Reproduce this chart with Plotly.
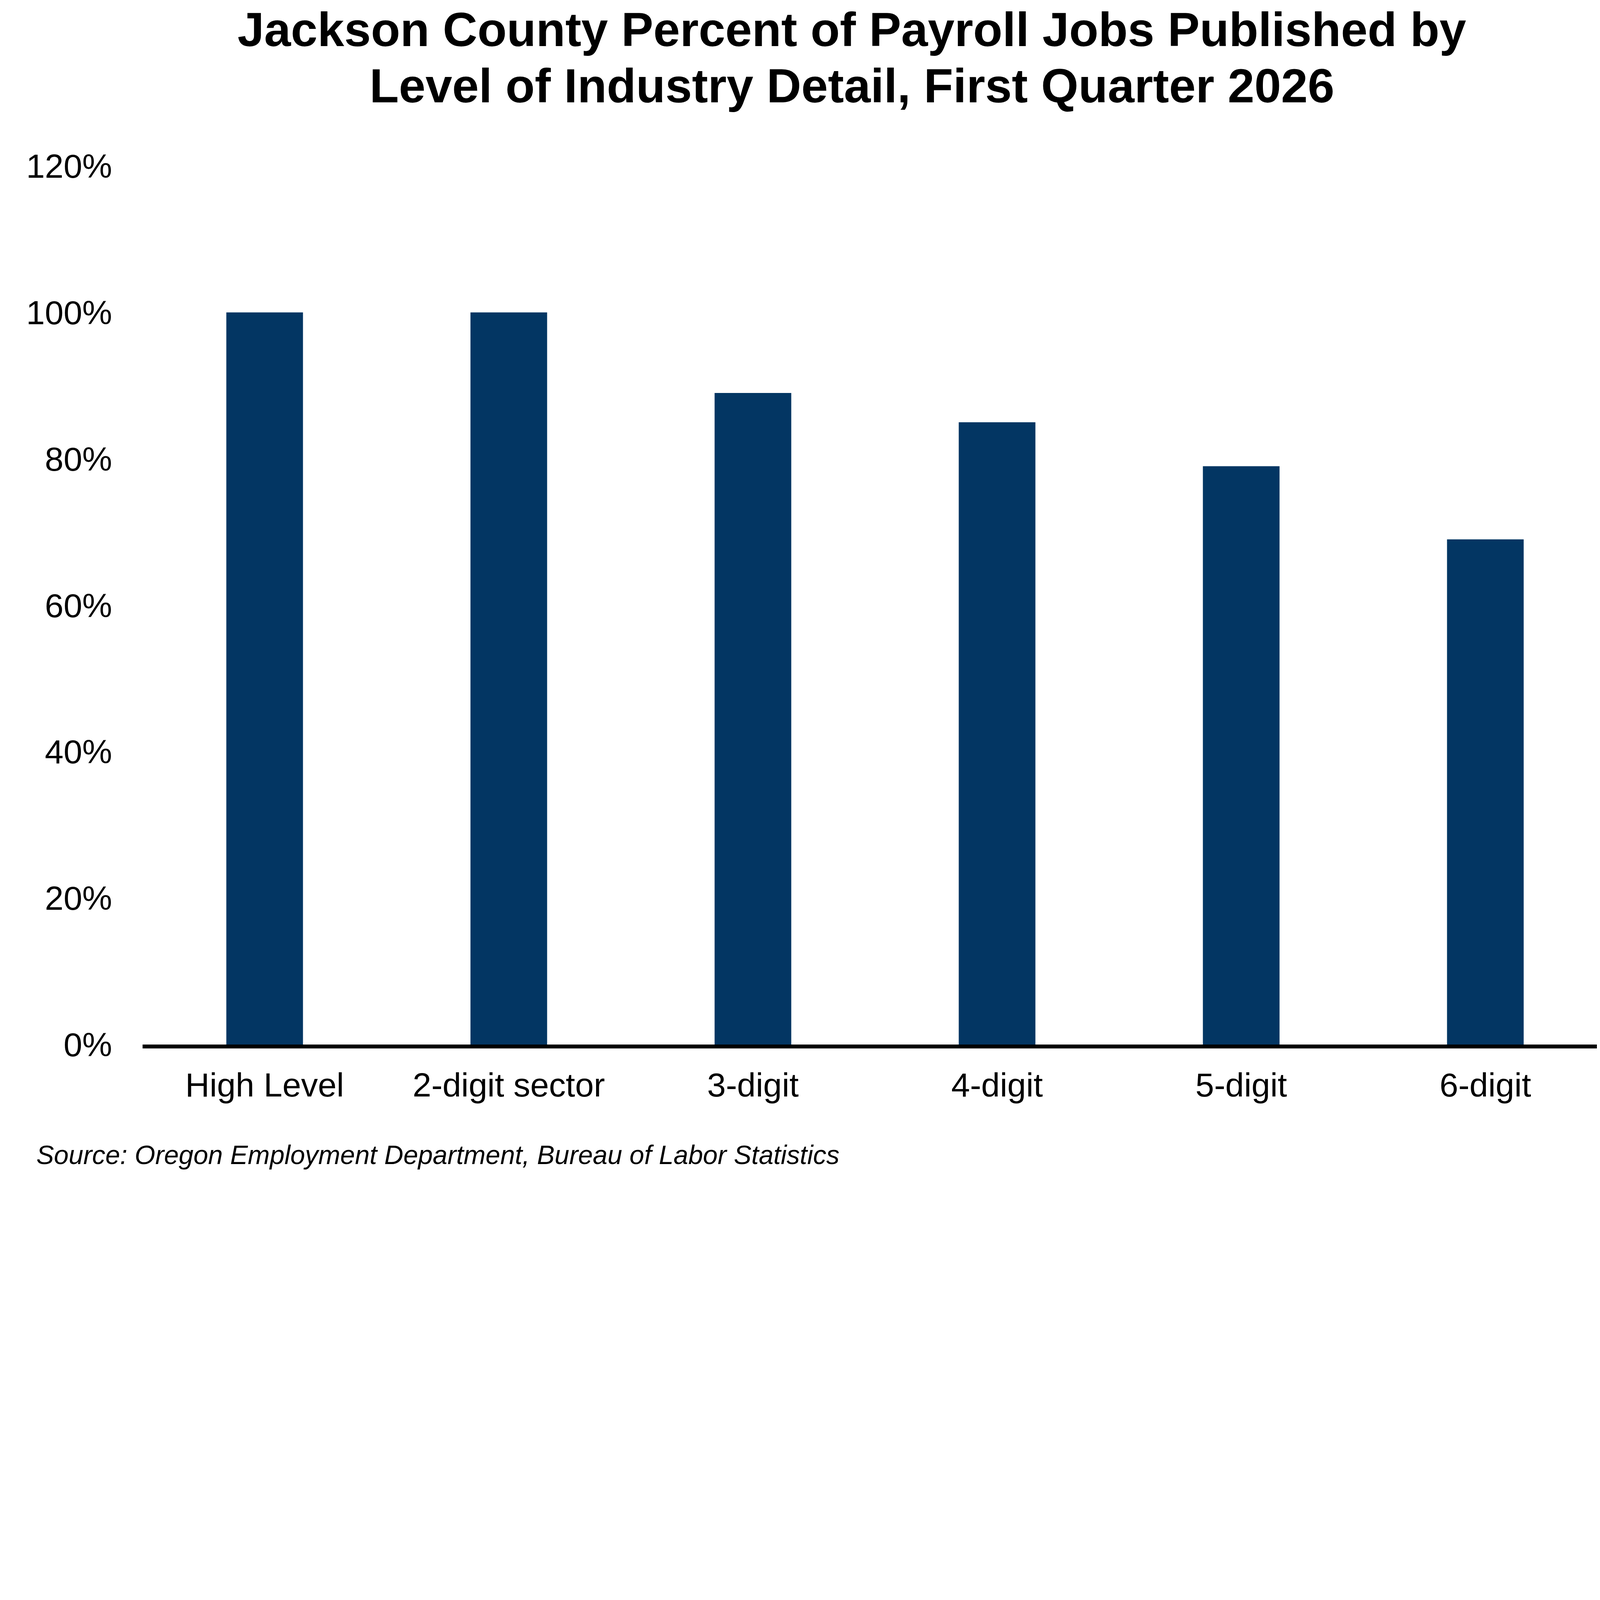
import plotly.graph_objects as go

# Jackson County payroll jobs published, by level of industry detail (Q1 2026)
categories = ['High Level', '2-digit sector', '3-digit', '4-digit', '5-digit', '6-digit']
pct_published = [100, 100, 89, 85, 79, 69]
y_ticks = [0, 20, 40, 60, 80, 100, 120]
y_tick_labels = [f'{v}%' for v in y_ticks]

bar_color = '#033663'
font_family = 'Liberation Sans, Arial, sans-serif'

# page is rendered at a device scale, so css px = image px / 1.36
S = 1 / 1.36

fig = go.Figure()

fig.add_trace(go.Bar(
    x=categories,
    y=pct_published,
    marker=dict(color=bar_color, line=dict(width=0)),
    hoverinfo='x+y',
))

# title lines placed separately to keep the tight line spacing
fig.add_annotation(
    text='<b>Jackson County Percent of Payroll Jobs Published by</b>',
    xref='paper', yref='paper', x=0.4842, y=1.1552,
    xanchor='center', yanchor='middle', showarrow=False,
    font=dict(family=font_family, size=167 * S, color='black'),
)
fig.add_annotation(
    text='<b>Level of Industry Detail, First Quarter 2026</b>',
    xref='paper', yref='paper', x=0.4842, y=1.0912,
    xanchor='center', yanchor='middle', showarrow=False,
    font=dict(family=font_family, size=167 * S, color='black'),
)

# source note
fig.add_annotation(
    text='<i>Source: Oregon Employment Department, Bureau of Labor Statistics</i>',
    xref='paper', yref='paper', x=-0.073, y=-0.1258,
    xanchor='left', yanchor='middle', showarrow=False,
    font=dict(family=font_family, size=92 * S, color='black'),
)

fig.update_layout(
    width=round(5680 * S),
    height=round(4113 * S),
    margin=dict(l=485 * S, r=94 * S, t=567 * S, b=487 * S),
    paper_bgcolor='white',
    plot_bgcolor='white',
    bargap=0.686,
    showlegend=False,
    font=dict(family=font_family, size=117 * S, color='black'),
    xaxis=dict(
        showline=True,
        linecolor='black',
        linewidth=13 * S,
        showgrid=False,
        ticks='',
        ticklabelstandoff=round(27 * S),
        tickfont=dict(size=117 * S),
    ),
    yaxis=dict(
        range=[0, 120],
        tickvals=y_ticks,
        ticktext=y_tick_labels,
        showgrid=False,
        zeroline=False,
        showline=False,
        ticks='',
        ticklabelstandoff=round(105 * S),
        tickfont=dict(size=117 * S),
    ),
)

fig.write_html("out.html")
